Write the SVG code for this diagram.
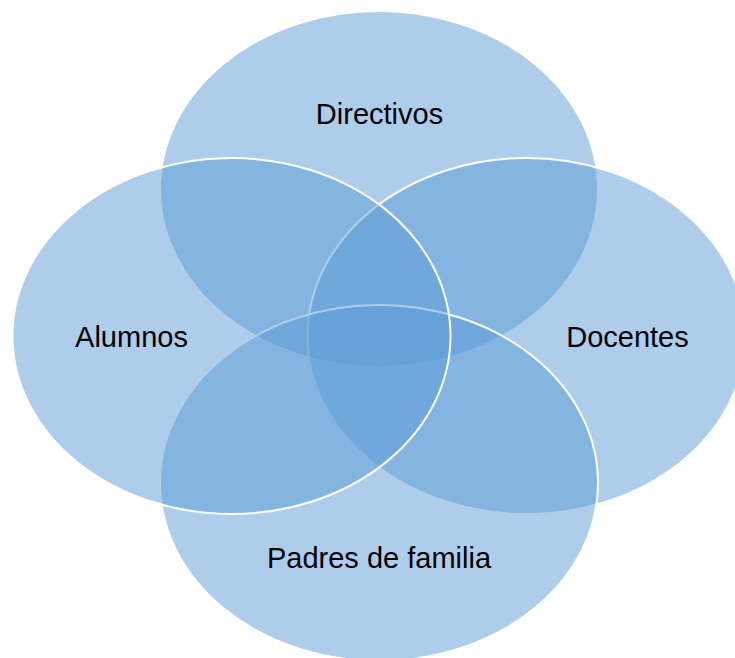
<svg xmlns="http://www.w3.org/2000/svg" width="735" height="658" viewBox="0 0 735 658">
<style>
.c{fill:#5B9BD5;fill-opacity:0.5;stroke:#FFFFFF;stroke-width:2}
.t{font-family:"Liberation Sans",Arial,sans-serif;font-size:29px;fill:#000000;text-anchor:middle}
</style>
<rect width="735" height="658" fill="#FFFFFF"/>
<g id="directivos">
<ellipse class="c" cx="379" cy="189" rx="219" ry="178"/>
</g>
<g id="docentes">
<ellipse class="c" cx="526.5" cy="336" rx="219" ry="178"/>
</g>
<g id="padres">
<ellipse class="c" cx="379" cy="483" rx="219" ry="178"/>
</g>
<g id="alumnos">
<ellipse class="c" cx="231.5" cy="336" rx="219" ry="178"/>
</g>
<g id="connectors"></g>
<g id="labels">
<text class="t" x="379.5" y="124">Directivos</text>
<text class="t" x="131.5" y="347.3">Alumnos</text>
<text class="t" x="627.5" y="347.3">Docentes</text>
<text class="t" x="379" y="567.7">Padres de familia</text>
</g>
</svg>
